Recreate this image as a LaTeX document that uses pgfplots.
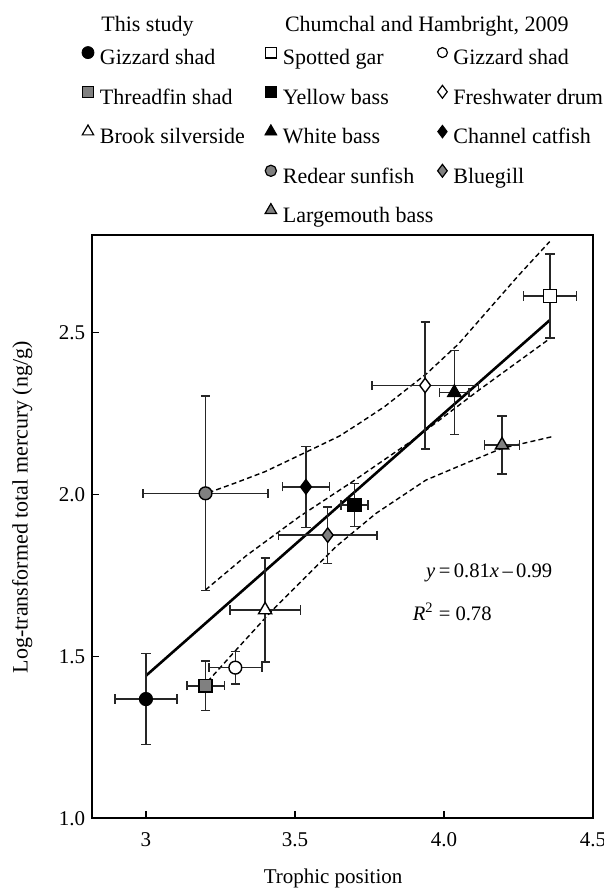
\documentclass[border=0pt]{standalone}
\usepackage{fontspec}
\setmainfont{Liberation Serif}
\usepackage{pgfplots}
\pgfplotsset{compat=1.18}

\pgfplotsset{
  ebar/.style={only marks, line width=0.7pt,
    error bars/x dir=both, error bars/x explicit,
    error bars/y dir=both, error bars/y explicit,
    error bars/error bar style={line width=0.75pt, black!85},
    error bars/error mark options={rotate=90, mark size=2.3pt, line width=0.75pt, black!85}},
  band/.style={black, line width=0.7pt, dash pattern=on 2.5pt off 1.6pt},
}

\begin{document}
\begin{tikzpicture}
\useasboundingbox (-46.15pt,-34.85pt) rectangle (255.85pt,409.15pt);
\begin{axis}[
  scale only axis, width=250.3pt, height=291.6pt,
  xmin=2.82, xmax=4.5, ymin=1.0, ymax=2.8,
  axis line style={line width=1pt},
  tick align=inside, major tick length=3.5pt,
  major tick style={line width=0.7pt, black},
  xtick={3,3.5,4,4.5}, xticklabels={3,3.5,4.0,4.5},
  ytick={1,1.5,2,2.5}, yticklabels={1.0,1.5,2.0,2.5},
  xtick pos=bottom, ytick pos=left,
  /pgf/number format/assume math mode=true,
  ticklabel style={font=\fontsize{10.5}{12}\selectfont},
  xticklabel style={yshift=-3.5pt},
  xlabel={Trophic position},
  ylabel={Log-transformed total mercury (ng/g)},
  every axis x label/.style={at={(axis description cs:0.481,-0.103)}, anchor=center,
    font=\fontsize{10.5}{12}\selectfont},
  every axis y label/.style={at={(axis description cs:-0.14,0.5335)}, rotate=90, anchor=center,
    font=\fontsize{11}{13}\selectfont},
  legend columns=3,
  legend cell align=left,
  legend image code/.code={\draw[#1] plot coordinates {(0pt,3.4pt)};},
  legend style={draw=none, fill=none, inner sep=0pt,
    at={(-0.0214,1.3239)}, anchor=north west,
    font=\fontsize{11}{13}\selectfont,
    column sep=2pt, row sep=6.75pt,
    /tikz/column 2/.style={column sep=9pt},
    /tikz/column 4/.style={column sep=1pt},
    nodes={inner sep=1pt, text height=8pt, text depth=2.5pt}},
]
% legend (row by row)
\addlegendimage{only marks, mark=*, mark size=3pt, mark options={fill=black, draw=black}}
\addlegendentry{Gizzard shad}
\addlegendimage{only marks, mark=square*, mark size=2.7pt, mark options={fill=white, draw=black, line width=0.6pt}}
\addlegendentry{Spotted gar}
\addlegendimage{only marks, mark=*, mark size=2.5pt, mark options={fill=white, draw=black, line width=0.6pt}}
\addlegendentry{Gizzard shad}
\addlegendimage{only marks, mark=square*, mark size=2.8pt, mark options={fill=gray, draw=black, line width=0.6pt}}
\addlegendentry{Threadfin shad}
\addlegendimage{only marks, mark=square*, mark size=2.8pt, mark options={fill=black, draw=black}}
\addlegendentry{Yellow bass}
\addlegendimage{only marks, mark=diamond*, mark size=3.2pt, mark options={fill=white, draw=black, line width=0.6pt}}
\addlegendentry{Freshwater drum}
\addlegendimage{only marks, mark=triangle*, mark size=3.3pt, mark options={fill=white, draw=black, line width=0.6pt}}
\addlegendentry{Brook silverside}
\addlegendimage{only marks, mark=triangle*, mark size=3.5pt, mark options={fill=black, draw=black}}
\addlegendentry{White bass}
\addlegendimage{only marks, mark=diamond*, mark size=3.2pt, mark options={fill=black, draw=black}}
\addlegendentry{Channel catfish}
\addlegendimage{empty legend}
\addlegendentry{}
\addlegendimage{only marks, mark=*, mark size=2.8pt, mark options={fill=gray, draw=black, line width=0.6pt}}
\addlegendentry{Redear sunfish}
\addlegendimage{only marks, mark=diamond*, mark size=3.2pt, mark options={fill=gray, draw=black, line width=0.6pt}}
\addlegendentry{Bluegill}
\addlegendimage{empty legend}
\addlegendentry{}
\addlegendimage{only marks, mark=triangle*, mark size=3.3pt, mark options={fill=gray, draw=black, line width=0.6pt}}
\addlegendentry{Largemouth bass}

% regression line and dashed bands
\addplot[black, line width=1.3pt, forget plot] coordinates {(3.0,1.44) (4.356,2.538)};
\addplot[band, forget plot] coordinates {
  (3.21,2.005) (3.30,2.035) (3.40,2.07) (3.537,2.13) (3.65,2.18) (3.716,2.219)
  (3.80,2.27) (3.944,2.374) (4.05,2.465) (4.149,2.569) (4.25,2.675) (4.355,2.78)};
\addplot[band, forget plot] coordinates {
  (3.20,1.705) (3.336,1.81) (3.515,1.931) (3.693,2.039) (3.90,2.17) (4.118,2.322) (4.356,2.481)};
\addplot[band, forget plot] coordinates {
  (3.207,1.422) (3.302,1.519) (3.425,1.643) (3.604,1.807) (3.637,1.838) (3.772,1.941)
  (3.94,2.044) (4.074,2.096) (4.195,2.142) (4.364,2.178)};

% this study
\addplot[forget plot, ebar, mark=*, mark size=3.2pt, mark options={fill=black, draw=black}]
  coordinates {(3.00,1.368) +- (0.104,0.140)};
\addplot[forget plot, ebar, mark=square*, mark size=3.2pt, mark options={fill=gray, draw=black}]
  coordinates {(3.20,1.409) +- (0.063,0.076)};
\addplot[forget plot, ebar, mark=triangle*, mark size=3.8pt, mark options={fill=white, draw=black}]
  coordinates {(3.40,1.643) +- (0.118,0.160)};
% Chumchal and Hambright, 2009
\addplot[forget plot, ebar, mark=square*, mark size=3.3pt, mark options={fill=white, draw=black}]
  coordinates {(4.356,2.612) +- (0.089,0.129)};
\addplot[forget plot, ebar, mark=square*, mark size=3.2pt, mark options={fill=black, draw=black}]
  coordinates {(3.70,1.967) +- (0.045,0.066)};
\addplot[forget plot, ebar, mark=triangle*, mark size=3.8pt, mark options={fill=black, draw=black}]
  coordinates {(4.035,2.314) +- (0.050,0.130)};
\addplot[forget plot, ebar, mark=*, mark size=3.2pt, mark options={fill=gray, draw=black}]
  coordinates {(3.20,2.003) +- (0.210,0.300)};
\addplot[forget plot, ebar, mark=triangle*, mark size=3.8pt, mark options={fill=gray, draw=black}]
  coordinates {(4.195,2.152) +- (0.058,0.089)};
\addplot[forget plot, ebar, mark=*, mark size=3.2pt, mark options={fill=white, draw=black}]
  coordinates {(3.30,1.465) +- (0.089,0.050)};
\addplot[forget plot, ebar, mark=diamond*, mark size=3.6pt, mark options={fill=white, draw=black}]
  coordinates {(3.937,2.336) +- (0.179,0.196)};
\addplot[forget plot, ebar, mark=diamond*, mark size=3.6pt, mark options={fill=black, draw=black}]
  coordinates {(3.537,2.023) +- (0.079,0.125)};
\addplot[forget plot, ebar, mark=diamond*, mark size=3.6pt, mark options={fill=gray, draw=black}]
  coordinates {(3.61,1.874) +- (0.165,0.087)};

\node[anchor=west, font=\fontsize{10.3}{12}\selectfont] at (axis cs:3.917,1.757)
  {\textit{y}\,=\,0.81\textit{x}\,–\,0.99};
\node[anchor=west, font=\fontsize{10.3}{12}\selectfont] at (axis cs:3.872,1.637)
  {\textit{R}\textsuperscript{2} = 0.78};
\end{axis}
\node[anchor=base, font=\fontsize{11}{13}\selectfont] at (27.6pt,393.15pt) {This study};
\node[anchor=base west, font=\fontsize{11}{13}\selectfont] at (92.85pt,393.15pt) {Chumchal and Hambright, 2009};
\end{tikzpicture}
\end{document}
